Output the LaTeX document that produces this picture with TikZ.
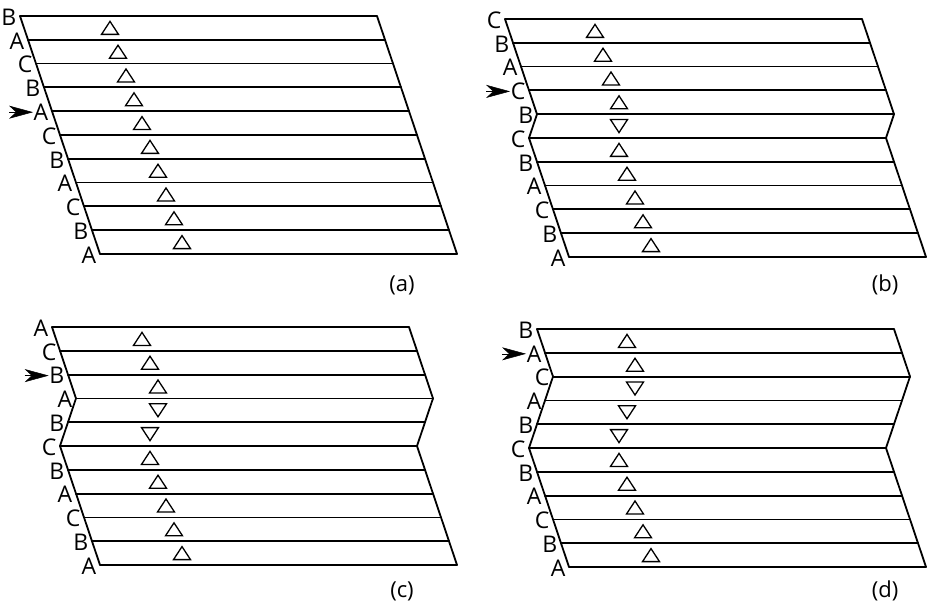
\documentclass[tikz,border=0pt]{standalone}
\usepackage{fontspec}
\setmainfont{Open Sans}
\usetikzlibrary{arrows.meta,calc}

\tikzset{
  layer/.style={line width=1.8pt,line cap=round},
  lab/.style={anchor=east,inner sep=0.5pt,font=\fontsize{23}{23}\selectfont},
  tri/.style={line width=1.3pt,line join=miter},
  caption/.style={font=\fontsize{22}{22}\selectfont},
  pointer/.style={-{Stealth[length=24pt,width=13pt,inset=7pt]},line width=0.5pt}
}

% one stacking sequence: name, x and y of the top left corner, shift/letter list, row with the arrow
\newcommand{\stackpanel}[5]{
  \foreach \k/\lab [count=\i from 0] in {#4} {
    \coordinate (#1L\i) at ({#2+8*\k},{#3+23.8*\i});
    \coordinate (#1R\i) at ({#2+8*\k+357},{#3+23.8*\i});
    \node[lab] (#1t\i) at ([xshift=-3pt,yshift=-1pt]#1L\i) {\lab};
    \draw[layer] (#1L\i) -- (#1R\i);
  }
  \foreach \i [evaluate=\i as \j using int(\i-1)] in {1,...,10} {
    \draw[layer] (#1L\j) -- (#1L\i) (#1R\j) -- (#1R\i);
    \draw[tri] let \p1=(#1L\j), \p2=(#1L\i), \n1={ifthenelse(\x2>\x1,1,-1)} in
      ({(\x1+\x2)/2+86pt},{(\y1+\y2)/2+6.5pt*\n1}) -- ++({-8.5pt},{-13pt*\n1}) -- ++(17pt,0) -- cycle;
  }
  \coordinate (#1p) at ([xshift=-24pt]#1t#5.west);
  \draw[pointer] (#1p) -- (#1t#5.west);
}

\begin{document}
\begin{tikzpicture}[x=1pt,y=-1pt]
\useasboundingbox (0,0) rectangle (936,612);

\stackpanel{a}{20}{16}{0/B,1/A,2/C,3/B,4/A,5/C,6/B,7/A,8/C,9/B,10/A}{4}
\stackpanel{b}{505}{19}{0/C,1/B,2/A,3/C,4/B,3/C,4/B,5/A,6/C,7/B,8/A}{3}
\stackpanel{c}{52}{327}{0/A,1/C,2/B,3/A,2/B,1/C,2/B,3/A,4/C,5/B,6/A}{2}
\stackpanel{d}{537}{329}{0/B,1/A,2/C,1/A,0/B,-1/C,0/B,1/A,2/C,3/B,4/A}{1}

\node[caption] (capa) at (402,285) {(a)};
\node[caption] (capb) at (885,285) {(b)};
\node[caption] (capc) at (402,591) {(c)};
\node[caption] (capd) at (885,591) {(d)};
\end{tikzpicture}
\end{document}
